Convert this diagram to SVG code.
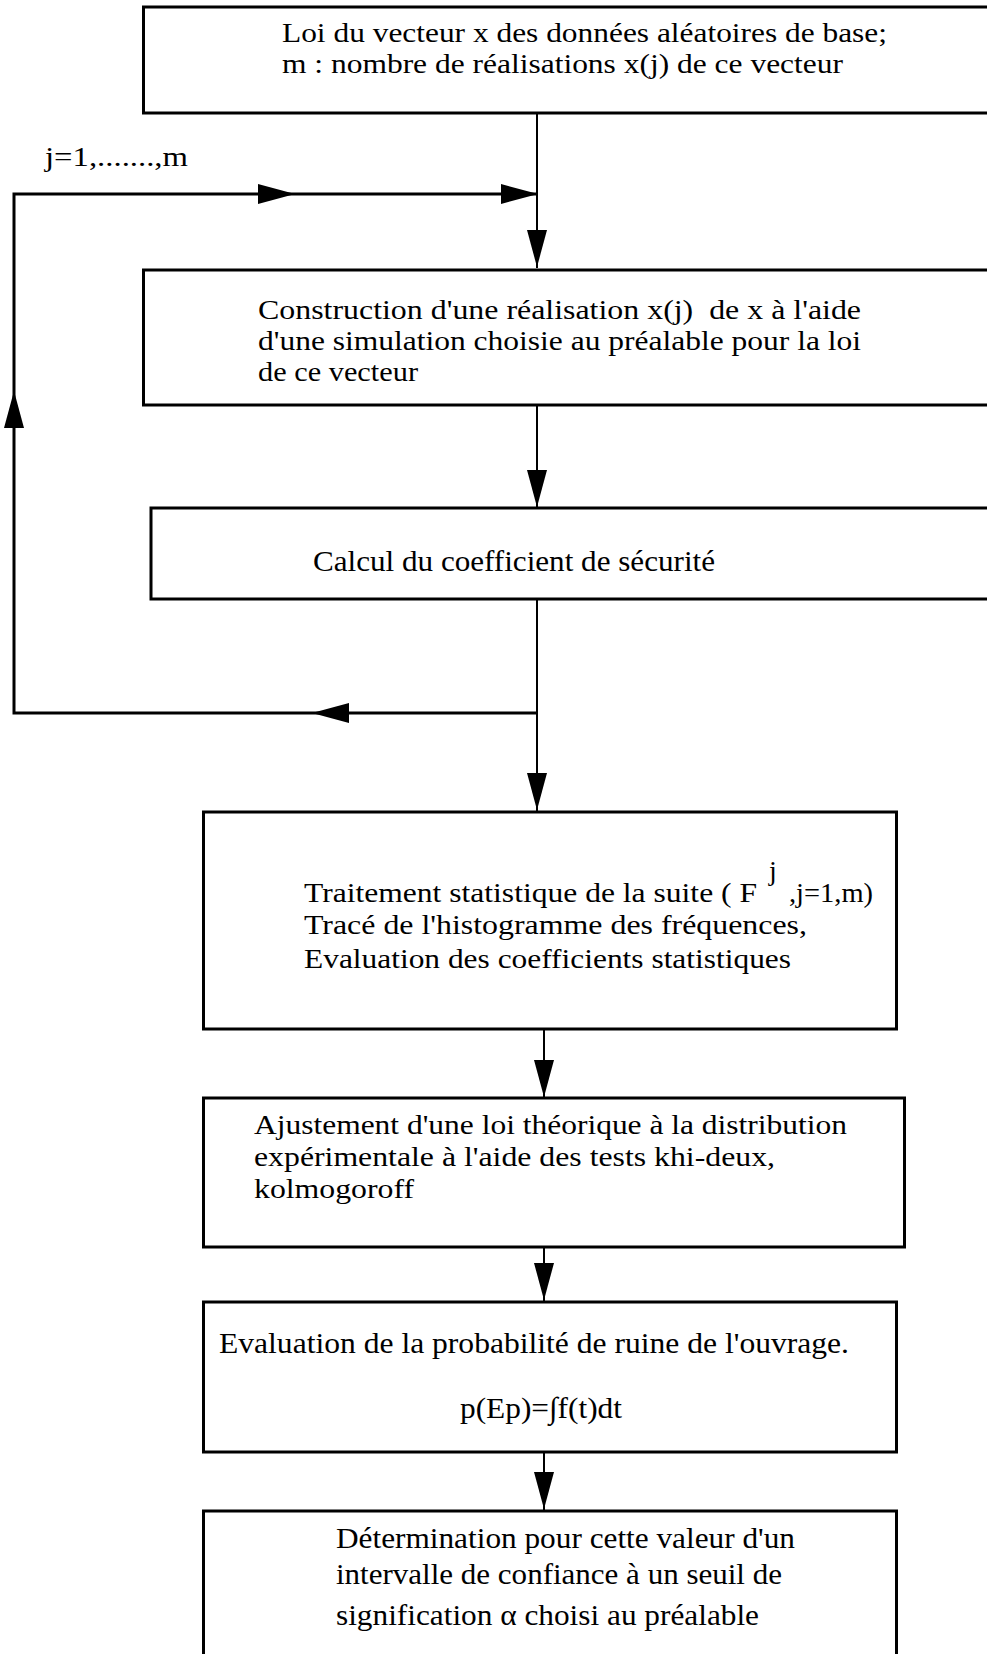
<svg xmlns="http://www.w3.org/2000/svg" xmlns:xlink="http://www.w3.org/1999/xlink" width="987" height="1654" viewBox="0 0 987 1654">
<style>
.box{fill:#fff;stroke:#000;stroke-width:3}
.t{font-family:"Liberation Serif","Times New Roman",serif;font-size:28px;fill:#000}
.big{font-size:30px}
.lbl{font-family:"Liberation Serif","Times New Roman",serif;font-size:27px;fill:#000}
.ln{fill:none;stroke:#000;stroke-width:2}
.loop{fill:none;stroke:#000;stroke-width:3}
.ah{fill:#000;stroke:none}
</style>
<defs>
<path id="arrow" class="ah" d="M0,0 L-37,-10 L-37,10 Z"/>
</defs>
<rect width="987" height="1654" fill="#fff"/>
<g id="connectors">
<path class="ln" d="M537,113 V268"/>
<path class="ln" d="M537,405 V508"/>
<path class="ln" d="M537,599 V812"/>
<path class="loop" d="M537,713 H14 V194 H537"/>
<path class="ln" d="M544,1029 V1098"/>
<path class="ln" d="M544,1247 V1302"/>
<path class="ln" d="M544,1452 V1511"/>
<use xlink:href="#arrow" transform="translate(295,194)"/>
<use xlink:href="#arrow" transform="translate(538,194)"/>
<use xlink:href="#arrow" transform="translate(537,267) rotate(90)"/>
<use xlink:href="#arrow" transform="translate(537,507) rotate(90)"/>
<use xlink:href="#arrow" transform="translate(312,713) rotate(180)"/>
<use xlink:href="#arrow" transform="translate(14,391) rotate(-90)"/>
<use xlink:href="#arrow" transform="translate(537,810) rotate(90)"/>
<use xlink:href="#arrow" transform="translate(544,1097) rotate(90)"/>
<use xlink:href="#arrow" transform="translate(544,1300) rotate(90)"/>
<use xlink:href="#arrow" transform="translate(544,1509) rotate(90)"/>
<text class="lbl" x="45" y="166" textLength="143" lengthAdjust="spacingAndGlyphs">j=1,.......,m</text>
</g>
<g id="n1">
<rect class="box" x="143.5" y="7" width="860" height="106"/>
<text class="t" x="282" y="42" textLength="605" lengthAdjust="spacingAndGlyphs">Loi du vecteur x des données aléatoires de base;</text>
<text class="t" x="282" y="73" textLength="561" lengthAdjust="spacingAndGlyphs">m : nombre de réalisations x(j) de ce vecteur</text>
</g>
<g id="n2">
<rect class="box" x="143.5" y="270" width="860" height="135"/>
<text class="t" x="258" y="319" textLength="603" lengthAdjust="spacingAndGlyphs" style="white-space:pre">Construction d'une réalisation x(j)  de x à l'aide</text>
<text class="t" x="258" y="350" textLength="603" lengthAdjust="spacingAndGlyphs">d'une simulation choisie au préalable pour la loi</text>
<text class="t" x="258" y="381" textLength="160" lengthAdjust="spacingAndGlyphs">de ce vecteur</text>
</g>
<g id="n3">
<rect class="box" x="151" y="508" width="860" height="91"/>
<text class="t big" x="313" y="571" textLength="402" lengthAdjust="spacingAndGlyphs">Calcul du coefficient de sécurité</text>
</g>
<g id="n4">
<rect class="box" x="203.5" y="812" width="693" height="217"/>
<text class="t"><tspan x="304" y="902" textLength="453" lengthAdjust="spacingAndGlyphs">Traitement statistique de la suite ( F</tspan><tspan x="769" y="880" font-size="28">j</tspan><tspan x="789" y="902" textLength="84" lengthAdjust="spacingAndGlyphs">,j=1,m)</tspan></text>
<text class="t" x="304" y="934" textLength="503" lengthAdjust="spacingAndGlyphs">Tracé de l'histogramme des fréquences,</text>
<text class="t" x="304" y="968" textLength="487" lengthAdjust="spacingAndGlyphs">Evaluation des coefficients statistiques</text>
</g>
<g id="n5">
<rect class="box" x="203.5" y="1098" width="701" height="149"/>
<text class="t" x="254" y="1134" textLength="593" lengthAdjust="spacingAndGlyphs">Ajustement d'une loi théorique à la distribution</text>
<text class="t" x="254" y="1166" textLength="521" lengthAdjust="spacingAndGlyphs">expérimentale à l'aide des tests khi-deux,</text>
<text class="t" x="254" y="1198" textLength="160" lengthAdjust="spacingAndGlyphs">kolmogoroff</text>
</g>
<g id="n6">
<rect class="box" x="203.5" y="1302" width="693" height="150"/>
<text class="t big" x="219" y="1353" textLength="630" lengthAdjust="spacingAndGlyphs">Evaluation de la probabilité de ruine de l'ouvrage.</text>
<text class="t big" x="460" y="1418" textLength="162" lengthAdjust="spacingAndGlyphs">p(Ep)=∫f(t)dt</text>
</g>
<g id="n7">
<rect class="box" x="203.5" y="1511" width="693" height="160"/>
<text class="t big" x="336" y="1548" textLength="459" lengthAdjust="spacingAndGlyphs">Détermination pour cette valeur d'un</text>
<text class="t big" x="336" y="1584" textLength="446" lengthAdjust="spacingAndGlyphs">intervalle de confiance à un seuil de</text>
<text class="t big" x="336" y="1625" textLength="423" lengthAdjust="spacingAndGlyphs">signification α choisi au préalable</text>
</g>
</svg>
